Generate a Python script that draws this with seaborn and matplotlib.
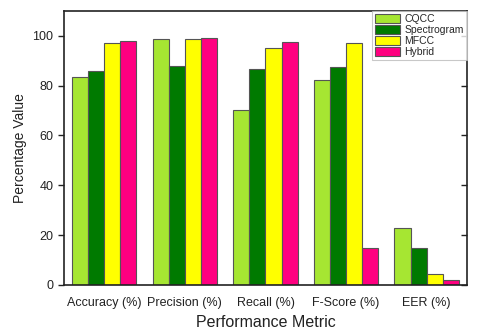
import matplotlib
matplotlib.use("Agg")
import matplotlib.pyplot as plt
import seaborn as sns
import pandas as pd

metrics = ["Accuracy (%)", "Precision (%)", "Recall (%)", "F-Score (%)", "EER (%)"]
cqcc = [83.6, 98.9, 70.3, 82.1, 22.8]
spectrogram = [85.7, 87.9, 86.8, 87.3, 14.8]
mfcc = [96.9, 98.9, 94.9, 96.9, 4.4]
hybrid = [98.1, 99.1, 97.3, 14.8, 2.1]
methods = ["CQCC", "Spectrogram", "MFCC", "Hybrid"]
colors = ["#A6E632", "#007A00", "#FFFF00", "#FF0080"]

rows = []
for m, vals in zip(methods, [cqcc, spectrogram, mfcc, hybrid]):
    for metric, v in zip(metrics, vals):
        rows.append({"Metric": metric, "Method": m, "Value": v})
df = pd.DataFrame(rows)

sns.set_theme(style="white")
plt.rcParams['font.family'] = ['Liberation Sans', 'DejaVu Sans']

fig = plt.figure(figsize=(4.8, 3.29), dpi=100)
ax = fig.add_axes([0.133, 0.134, 0.840, 0.833])
sns.barplot(data=df, x="Metric", y="Value", hue="Method", hue_order=methods,
            palette=colors, width=0.8, edgecolor="#555555", linewidth=0.8,
            saturation=1, ax=ax)

ax.set_ylim(0, 110)
ax.set_xlim(-0.5, 4.5)
ax.set_yticks([0, 20, 40, 60, 80, 100])
ax.tick_params(axis='y', which='both', left=True, right=True, direction='out',
               length=4, width=1, labelsize=9, colors='#222222')
ax.tick_params(axis='x', bottom=False, labelsize=9, pad=3, colors='#222222')
for s in ax.spines.values():
    s.set_color('#222222')
    s.set_linewidth(1.2)
ax.yaxis.set_ticks_position('both')
for t in ax.yaxis.get_major_ticks():
    t.tick2line.set_marker(matplotlib.lines.TICKLEFT)
    t.tick2line.set_markersize(4)

ax.set_xlabel("Performance Metric", fontsize=11.5, labelpad=4, color='#222222')
ax.set_ylabel("Percentage Value", fontsize=10, labelpad=4, color='#222222')

leg = ax.legend(loc="upper right", fontsize=7.5, frameon=True, fancybox=False,
                borderpad=0.3, labelspacing=0.1, handlelength=2.4,
                handleheight=0.9, handletextpad=0.4, borderaxespad=0.0,
                edgecolor="#bbbbbb")
leg.get_frame().set_linewidth(0.8)

fig.savefig("out.png", dpi=100)
